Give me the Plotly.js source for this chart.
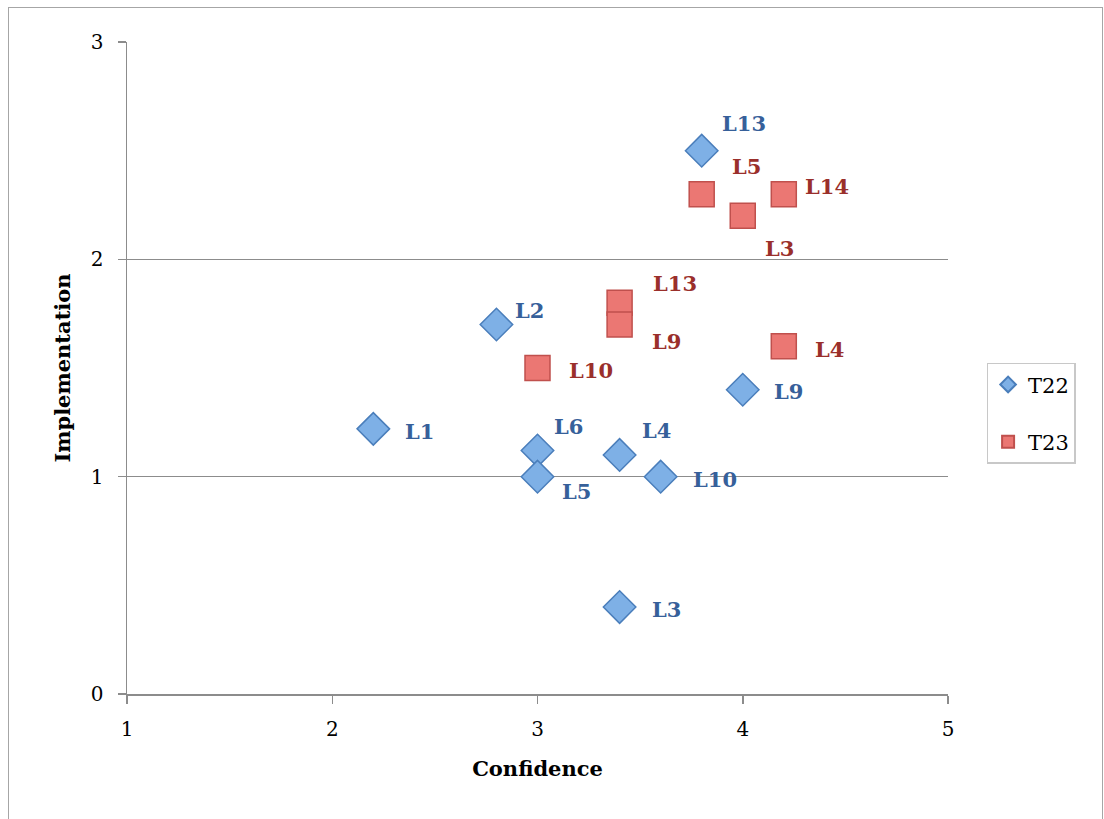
<!DOCTYPE html>
<html><head><meta charset="utf-8">
<script src="https://cdn.plot.ly/plotly-3.0.1.min.js"></script>
<style>
html,body{margin:0;padding:0;background:#fff;}
#chart{width:1104px;height:819px;position:relative;}
#frame{position:absolute;left:8px;top:7px;width:1093px;height:830px;border:1px solid #a6a6a6;border-bottom:none;pointer-events:none;}
</style></head>
<body>
<div id="chart"></div>
<div id="frame"></div>
<script>
// T22 series
const t22Labels = ["L13","L2","L1","L6","L5","L4","L10","L9","L3"];
const t22X = [3.8, 2.8, 2.2, 3.0, 3.0, 3.4, 3.6, 4.0, 3.4];
const t22Y = [2.5, 1.7, 1.22, 1.12, 1.0, 1.1, 1.0, 1.4, 0.4];
// T23 series
const t23Labels = ["L5","L3","L14","L13","L9","L4","L10"];
const t23X = [3.8, 4.0, 4.2, 3.4, 3.4, 4.2, 3.0];
const t23Y = [2.3, 2.2, 2.3, 1.8, 1.7, 1.6, 1.5];
const xTicks = [1, 2, 3, 4, 5];
const yTicks = [0, 1, 2, 3];

// label offsets in pixels (style only)
const t22Off = [[42,-27],[33,-14],[46,3],[31,-24],[39,15],[37,-24],[54,3],[46,2],[47,2]];
const t23Off = [[45,-28],[37,33],[43,-8],[55,-19],[47,17],[46,3],[53,2]];

const serif = "'DejaVu Serif', serif";
const blue = "#36609a", red = "#9a2f2b";

const traces = [
  {x:t22X, y:t22Y, name:"T22", type:"scatter", mode:"markers", legendgroup:"a",
   marker:{symbol:"diamond", size:25, color:"#7eb0e6", line:{color:"#4a7ebb", width:1.5}}},
  {x:t23X, y:t23Y, name:"T23", type:"scatter", mode:"markers", legendgroup:"b",
   marker:{symbol:"square", size:25, color:"#eb7773", line:{color:"#c0504d", width:1.5}}}
];

const annotations = [];
t22Labels.forEach((t,i)=>annotations.push({x:t22X[i], y:t22Y[i], text:t, showarrow:false,
  xshift:t22Off[i][0], yshift:-t22Off[i][1], font:{family:serif, size:21, color:blue, weight:"bold"}}));
t23Labels.forEach((t,i)=>annotations.push({x:t23X[i], y:t23Y[i], text:t, showarrow:false,
  xshift:t23Off[i][0], yshift:-t23Off[i][1], font:{family:serif, size:21, color:red, weight:"bold"}}));

const layout = {
  width:1104, height:819,
  margin:{l:127, r:156, t:42, b:125},
  paper_bgcolor:"#fff", plot_bgcolor:"#fff",
  showlegend:true,
  legend:{x:1.047, y:0.508, xanchor:"left", yanchor:"top", bordercolor:"#c8c8c8", borderwidth:1.5,
    font:{family:serif, size:21, color:"#000"}, itemsizing:"constant", traceorder:"grouped", tracegroupgap:27,
    itemwidth:30},
  xaxis:{range:[1,5], tickvals:xTicks, showgrid:false, zeroline:false, showline:true, linecolor:"#8c8c8c", linewidth:1.5,
    ticks:"outside", ticklen:8, tickcolor:"#8c8c8c", tickwidth:1.5, ticklabelstandoff:8,
    tickfont:{family:serif, size:20, color:"#000"},
    title:{text:"Confidence", font:{family:serif, size:21, color:"#000", weight:"bold"}, standoff:22}},
  yaxis:{range:[0,3], tickvals:yTicks, showgrid:true, gridcolor:"#8c8c8c", gridwidth:1.5, zeroline:false,
    showline:true, linecolor:"#8c8c8c", linewidth:1.5,
    ticks:"outside", ticklen:8, tickcolor:"#8c8c8c", tickwidth:1.5, ticklabelstandoff:10,
    tickfont:{family:serif, size:20, color:"#000"},
    title:{text:"Implementation", font:{family:serif, size:21, color:"#000", weight:"bold"}, standoff:14}},
  annotations:annotations
};

Plotly.newPlot("chart", traces, layout, {displayModeBar:false, staticPlot:true});
</script>
</body></html>
